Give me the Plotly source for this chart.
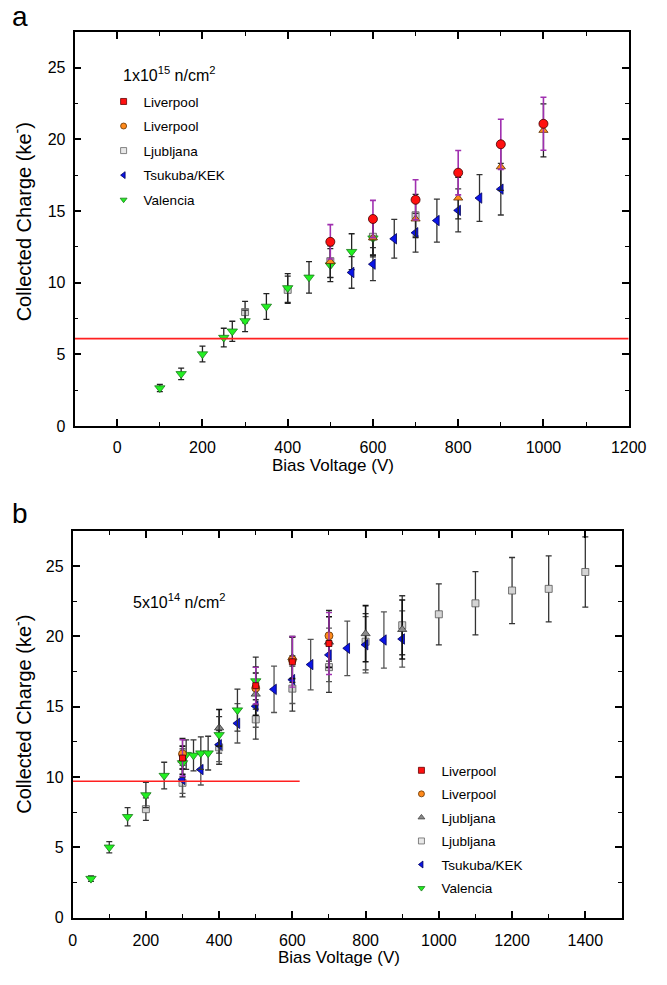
import plotly.graph_objects as go

FONT = "Liberation Sans, Arial, sans-serif"

# ---------------- Panel a : 1x10^15 n/cm^2 ----------------
a_liv_red_v = [500, 600, 700, 800, 900, 1000]
a_liv_red_q = [12.85, 14.44, 15.78, 17.67, 19.65, 21.08]
a_liv_red_e = [1.2, 1.3, 1.4, 1.55, 1.75, 1.85]

a_liv_orange_v = [500, 600, 700, 800, 900, 1000]
a_liv_orange_q = [11.47, 13.13, 14.44, 15.9, 18.08, 20.62]
a_liv_orange_e = [1.1, 1.2, 1.3, 1.45, 1.65, 1.85]

a_ljub_v = [300, 400, 500, 600, 700]
a_ljub_q = [7.95, 9.5, 11.5, 13.2, 14.7]
a_ljub_e = [0.75, 0.95, 1.15, 1.3, 1.45]

a_kek_v = [550, 600, 650, 700, 750, 800, 850, 900]
a_kek_q = [10.71, 11.29, 13.06, 13.48, 14.33, 15.04, 15.9, 16.52]
a_kek_e = [1.1, 1.15, 1.35, 1.35, 1.5, 1.5, 1.63, 1.8]

a_val_v = [100, 150, 200, 250, 270, 300, 350, 400, 450, 500, 550, 600]
a_val_q = [2.65, 3.64, 5.02, 6.17, 6.61, 7.33, 8.34, 9.63, 10.37, 11.22, 12.16, 13.1]
a_val_e = [0.25, 0.4, 0.55, 0.65, 0.7, 0.75, 0.9, 1.0, 1.1, 1.15, 1.25, 1.3]

a_threshold = 6.1
a_legend_names = ["Liverpool", "Liverpool", "Ljubljana", "Tsukuba/KEK", "Valencia"]

# ---------------- Panel b : 5x10^14 n/cm^2 ----------------
b_liv_red_v = [300, 500, 600, 700]
b_liv_red_q = [11.35, 16.5, 18.2, 19.5]
b_liv_red_e = [1.3, 1.3, 1.8, 2.2]

b_liv_orange_v = [300, 500, 600, 700]
b_liv_orange_q = [11.64, 16.33, 18.34, 20.05]
b_liv_orange_e = [1.1, 1.5, 1.6, 1.8]

b_ljub_tri_v = [300, 400, 500, 600, 700, 800, 900]
b_ljub_tri_q = [11.2, 13.5, 15.9, 18.5, 19.6, 20.2, 20.5]
b_ljub_tri_e = [1.0, 1.3, 1.5, 1.5, 1.8, 2.0, 2.1]

b_ljub_sq_v = [200, 300, 400, 500, 600, 700, 800, 900, 1000, 1100, 1200, 1300, 1400]
b_ljub_sq_q = [7.71, 9.59, 12.11, 14.1, 16.29, 17.82, 19.63, 20.8, 21.58, 22.36, 23.27, 23.39, 24.59]
b_ljub_sq_e = [0.8, 1.0, 1.2, 1.4, 1.6, 1.8, 2.0, 2.1, 2.17, 2.25, 2.35, 2.35, 2.5]

b_kek_v = [300, 350, 400, 450, 500, 550, 600, 650, 700, 750, 800, 850, 900]
b_kek_q = [9.83, 10.53, 12.3, 13.82, 15.04, 16.24, 16.93, 18.0, 18.69, 19.16, 19.41, 19.75, 19.82]
b_kek_e = [1.0, 1.1, 1.2, 1.4, 1.5, 1.65, 1.7, 1.8, 1.9, 1.94, 2.0, 2.0, 2.0]

b_val_v = [50, 100, 150, 200, 250, 300, 310, 330, 350, 370, 400, 450, 500]
b_val_q = [2.77, 5.0, 7.17, 8.72, 10.1, 11.0, 11.59, 11.54, 11.7, 11.7, 13.0, 14.76, 16.83]
b_val_e = [0.2, 0.4, 0.65, 0.9, 0.95, 1.0, 1.05, 1.1, 1.15, 1.2, 1.3, 1.5, 1.7]

b_threshold = 9.7
b_threshold_end = 620
b_legend_names = ["Liverpool", "Liverpool", "Ljubljana", "Ljubljana", "Tsukuba/KEK", "Valencia"]

# ---------------- styles ----------------
RED = "#ff1010"
ORANGE = "#ff8a1c"
GRAY_LIGHT = "#d4d4d4"
GRAY_DARK = "#8a8a8a"
BLUE = "#0a14e6"
GREEN = "#22f022"
MAGENTA = "#a030b0"

fig = go.Figure()


def data_trace(v, q, e, xa, ya, symbol, color, line_color, size, err_color, err_w=1.3):
    fig.add_trace(go.Scatter(
        x=v, y=q, mode="markers", xaxis=xa, yaxis=ya, showlegend=False,
        marker=dict(symbol=symbol, color=color, size=size,
                    line=dict(color=line_color, width=0.8)),
        error_y=dict(type="data", array=e, visible=True, color=err_color,
                     thickness=err_w, width=3),
        hoverinfo="x+y",
    ))


def legend_trace(name, legend, group, symbol, color, line_color, size=6):
    fig.add_trace(go.Scatter(
        x=[None], y=[None], mode="markers", name=name, legend=legend,
        legendgroup=group, xaxis="x", yaxis="y",
        marker=dict(symbol=symbol, color=color, size=size,
                    line=dict(color=line_color, width=0.8)),
    ))


# Panel a data
data_trace(a_ljub_v, a_ljub_q, a_ljub_e, "x", "y", "square", GRAY_LIGHT, "#555", 7, "#222")
data_trace(a_val_v, a_val_q, a_val_e, "x", "y", "triangle-down", GREEN, "#1a7a1a", 9, "#222")
data_trace(a_kek_v, a_kek_q, a_kek_e, "x", "y", "triangle-left", BLUE, "#00005a", 9, "#333")
data_trace(a_liv_orange_v, a_liv_orange_q, a_liv_orange_e, "x", "y", "triangle-up", ORANGE, "#5a3000", 8, "#222")
data_trace(a_liv_red_v, a_liv_red_q, a_liv_red_e, "x", "y", "circle", RED, "#400000", 9, MAGENTA, 1.6)

# Panel b data
data_trace(b_ljub_sq_v, b_ljub_sq_q, b_ljub_sq_e, "x2", "y2", "square", GRAY_LIGHT, "#555", 7, "#333")
data_trace(b_kek_v, b_kek_q, b_kek_e, "x2", "y2", "triangle-left", BLUE, "#00005a", 9, "#555")
data_trace(b_ljub_tri_v, b_ljub_tri_q, b_ljub_tri_e, "x2", "y2", "triangle-up", GRAY_DARK, "#333", 8, "#111", 1.6)
data_trace(b_val_v, b_val_q, b_val_e, "x2", "y2", "triangle-down", GREEN, "#1a7a1a", 9, "#333")
data_trace(b_liv_orange_v, b_liv_orange_q, b_liv_orange_e, "x2", "y2", "circle", ORANGE, "#5a3000", 8, "#222")
data_trace(b_liv_red_v, b_liv_red_q, b_liv_red_e, "x2", "y2", "square", RED, "#400000", 6, MAGENTA, 1.4)

# Threshold lines
fig.add_trace(go.Scatter(x=[-100, 1200], y=[a_threshold, a_threshold], mode="lines",
                         xaxis="x", yaxis="y", showlegend=False,
                         line=dict(color="#ff2020", width=1.6), hoverinfo="skip"))
fig.add_trace(go.Scatter(x=[0, b_threshold_end], y=[b_threshold, b_threshold], mode="lines",
                         xaxis="x2", yaxis="y2", showlegend=False,
                         line=dict(color="#ff2020", width=1.6), hoverinfo="skip"))

# Legends
a_sym = [("square", RED, "#600"), ("circle", ORANGE, "#630"), ("square", "#e8e8e8", "#666"),
         ("triangle-left", BLUE, "#00005a"), ("triangle-down", GREEN, "#1a7a1a")]
for i, (nm, (s, c, lc)) in enumerate(zip(a_legend_names, a_sym)):
    legend_trace(nm, "legend", f"a{i}", s, c, lc)
b_sym = [("square", RED, "#600"), ("circle", ORANGE, "#630"), ("triangle-up", GRAY_DARK, "#444"),
         ("square", "#e8e8e8", "#666"), ("triangle-left", BLUE, "#00005a"),
         ("triangle-down", GREEN, "#1a7a1a")]
for i, (nm, (s, c, lc)) in enumerate(zip(b_legend_names, b_sym)):
    legend_trace(nm, "legend2", f"b{i}", s, c, lc)

W, H = 667, 985


def px_x(p):
    return p / W


def px_y(p):
    return 1 - p / H


axis_common = dict(
    showline=True, linecolor="black", linewidth=1.8, mirror="ticks",
    ticks="inside", ticklen=7, tickwidth=1.5, tickcolor="black",
    showgrid=False, zeroline=False,
    tickfont=dict(family=FONT, size=16, color="black"),
    minor=dict(ticks="inside", ticklen=4, tickwidth=1.2, tickcolor="black", showgrid=False),
)

fig.update_layout(
    width=W, height=H, autosize=False,
    margin=dict(l=0, r=0, t=0, b=0),
    paper_bgcolor="white", plot_bgcolor="white",
    font=dict(family=FONT, color="black"),
    xaxis=dict(domain=[px_x(73), px_x(646)], range=[-100, 1200], dtick=200, tick0=0,
               anchor="y", ticklabelstandoff=6, minor_dtick=100, **axis_common),
    yaxis=dict(domain=[px_y(430), px_y(32)], range=[0, 27.5], dtick=5, tick0=0,
               anchor="x", ticklabelstandoff=4, minor_dtick=2.5, **axis_common),
    xaxis2=dict(domain=[px_x(71), px_x(639)], range=[0, 1500], dtick=200, tick0=0,
                anchor="y2", ticklabelstandoff=7, minor_dtick=100, **axis_common),
    yaxis2=dict(domain=[px_y(926), px_y(536)], range=[0, 27.5], dtick=5, tick0=0,
                anchor="x2", ticklabelstandoff=4, minor_dtick=2.5, **axis_common),
    legend=dict(x=px_x(103), y=px_y(87), xanchor="left", yanchor="top",
                bgcolor="rgba(0,0,0,0)", font=dict(family=FONT, size=13.5),
                itemsizing="trace", tracegroupgap=4, traceorder="grouped"),
    legend2=dict(x=px_x(411), y=px_y(762), xanchor="left", yanchor="top",
                 bgcolor="rgba(0,0,0,0)", font=dict(family=FONT, size=13.5),
                 itemsizing="trace", tracegroupgap=3, traceorder="grouped"),
    showlegend=True,
)

ann = []


def add_text(text, xp, yp, size, angle=0, xanchor="center"):
    ann.append(dict(text=text, x=px_x(xp), y=px_y(yp), xref="paper", yref="paper",
                    xanchor=xanchor, yanchor="middle", textangle=angle, showarrow=False,
                    font=dict(family=FONT, size=size, color="black")))


add_text("1x10<sup>15</sup> n/cm<sup>2</sup>", 121, 75, 16, xanchor="left")
add_text("5x10<sup>14</sup> n/cm<sup>2</sup>", 131, 607, 16, xanchor="left")
add_text("a", 17, 17, 28)
add_text("b", 17, 518, 28)
add_text("Collected Charge (ke<sup>-</sup>)", 19, 224, 20, angle=-90)
add_text("Collected Charge (ke<sup>-</sup>)", 19, 721, 20, angle=-90)
add_text("Bias Voltage (V)", 340, 470, 17)
add_text("Bias Voltage (V)", 346, 966, 17)
fig.update_layout(annotations=ann)

fig.write_html("out.html")
